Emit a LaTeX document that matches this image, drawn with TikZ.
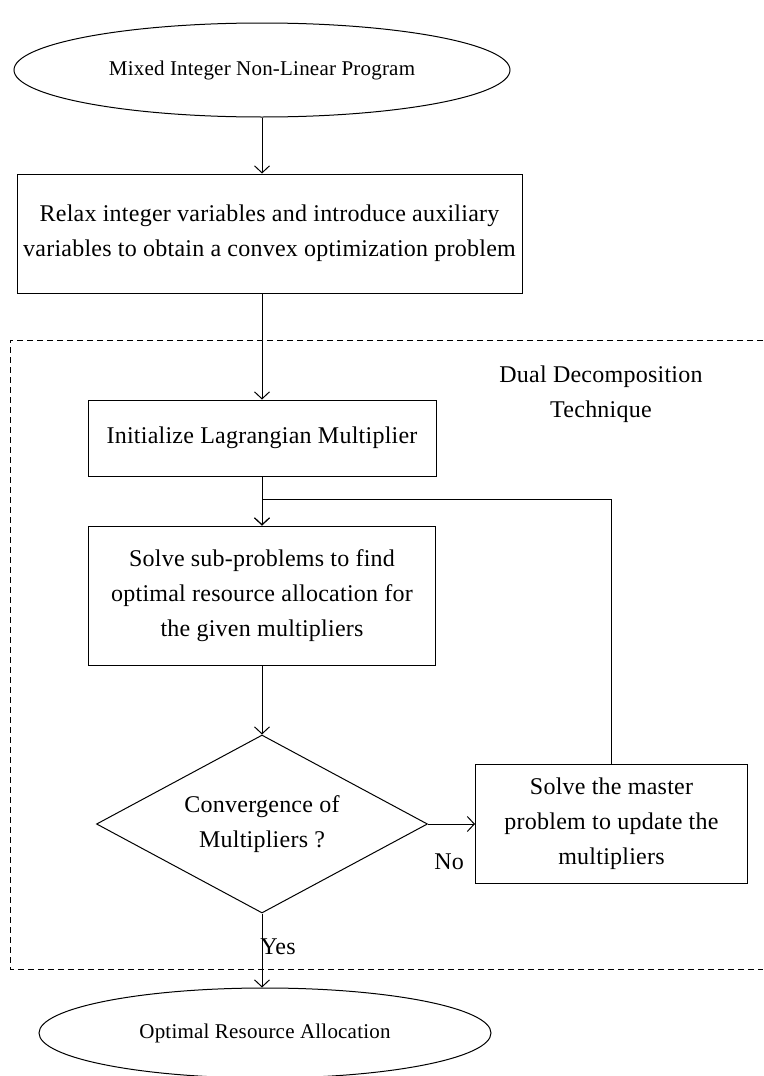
\documentclass[tikz,border=0pt]{standalone}
\usepackage{fontspec}
\setmainfont{Liberation Serif}[LetterSpace=1]
\usetikzlibrary{arrows.meta, positioning, shapes.geometric}

\begin{document}
\begin{tikzpicture}[
      x=1pt, y=-1pt,
      every node/.style={font=\fontsize{24}{35}\selectfont},
      term/.style={ellipse, draw, line width=1pt, inner sep=0pt, font=\fontsize{21}{30}\selectfont},
      block/.style={rectangle, draw, line width=1pt, align=center},
      decide/.style={diamond, draw, line width=1pt, aspect=1.86, inner sep=0pt, align=center},
      lbl/.style={align=center},
      arr/.style={-{Straight Barb[length=7pt, width=15pt]}, line width=1pt}
    ]
    \useasboundingbox (0,0) rectangle (763,1076);

    \node[term, minimum width=496pt, minimum height=94pt] (milp) at (262,70) {Mixed Integer Non-Linear Program};
    \node[block, below=56pt of milp, xshift=7.5pt, minimum width=505pt, minimum height=119pt] (relax)
      {Relax integer variables and introduce auxiliary\\variables to obtain a convex optimization problem};
    \node[block, below=106pt of relax, xshift=-7.5pt, minimum width=348pt, minimum height=76pt] (init)
      {Initialize Lagrangian Multiplier};
    \node[block, below=49pt of init, minimum width=347pt, minimum height=139pt] (solve)
      {Solve sub-problems to find\\optimal resource allocation for\\the given multipliers};
    \node[decide, below=69pt of solve, minimum width=331pt, minimum height=178pt] (conv)
      {Convergence of\\Multipliers ?};
    \node[block, right=47pt of conv, minimum width=272pt, minimum height=119pt] (master)
      {Solve the master\\problem to update the\\multipliers};
    \node[term, below=74pt of conv, xshift=3pt, minimum width=452pt, minimum height=90pt] (alloc)
      {Optimal Resource Allocation};

    % dashed frame round the decomposition loop
    \draw[dashed, dash pattern=on 6pt off 4pt, line width=0.8pt] (763,340) -- (10,340) -- (10,969) -- (763,969);
    \node[lbl] (dual) at (601,394) {Dual Decomposition\\Technique};

    \draw[arr] (milp.south) -- (milp.south |- relax.north);
    \draw[arr] (init.north |- relax.south) -- (init.north);
    \draw[arr] (init) -- (solve);
    \draw[arr] (solve) -- (conv);
    \draw[arr] (conv.east) -- (master.west) node[lbl, pos=0.45, below=26pt] {No};
    \draw[arr] (master.north) |- ([yshift=26pt]solve.north) -- (solve.north);
    \draw[arr] (conv.south) -- (conv.south |- alloc.north) node[lbl, pos=0.45, xshift=16pt] {Yes};
  \end{tikzpicture}
\end{document}
